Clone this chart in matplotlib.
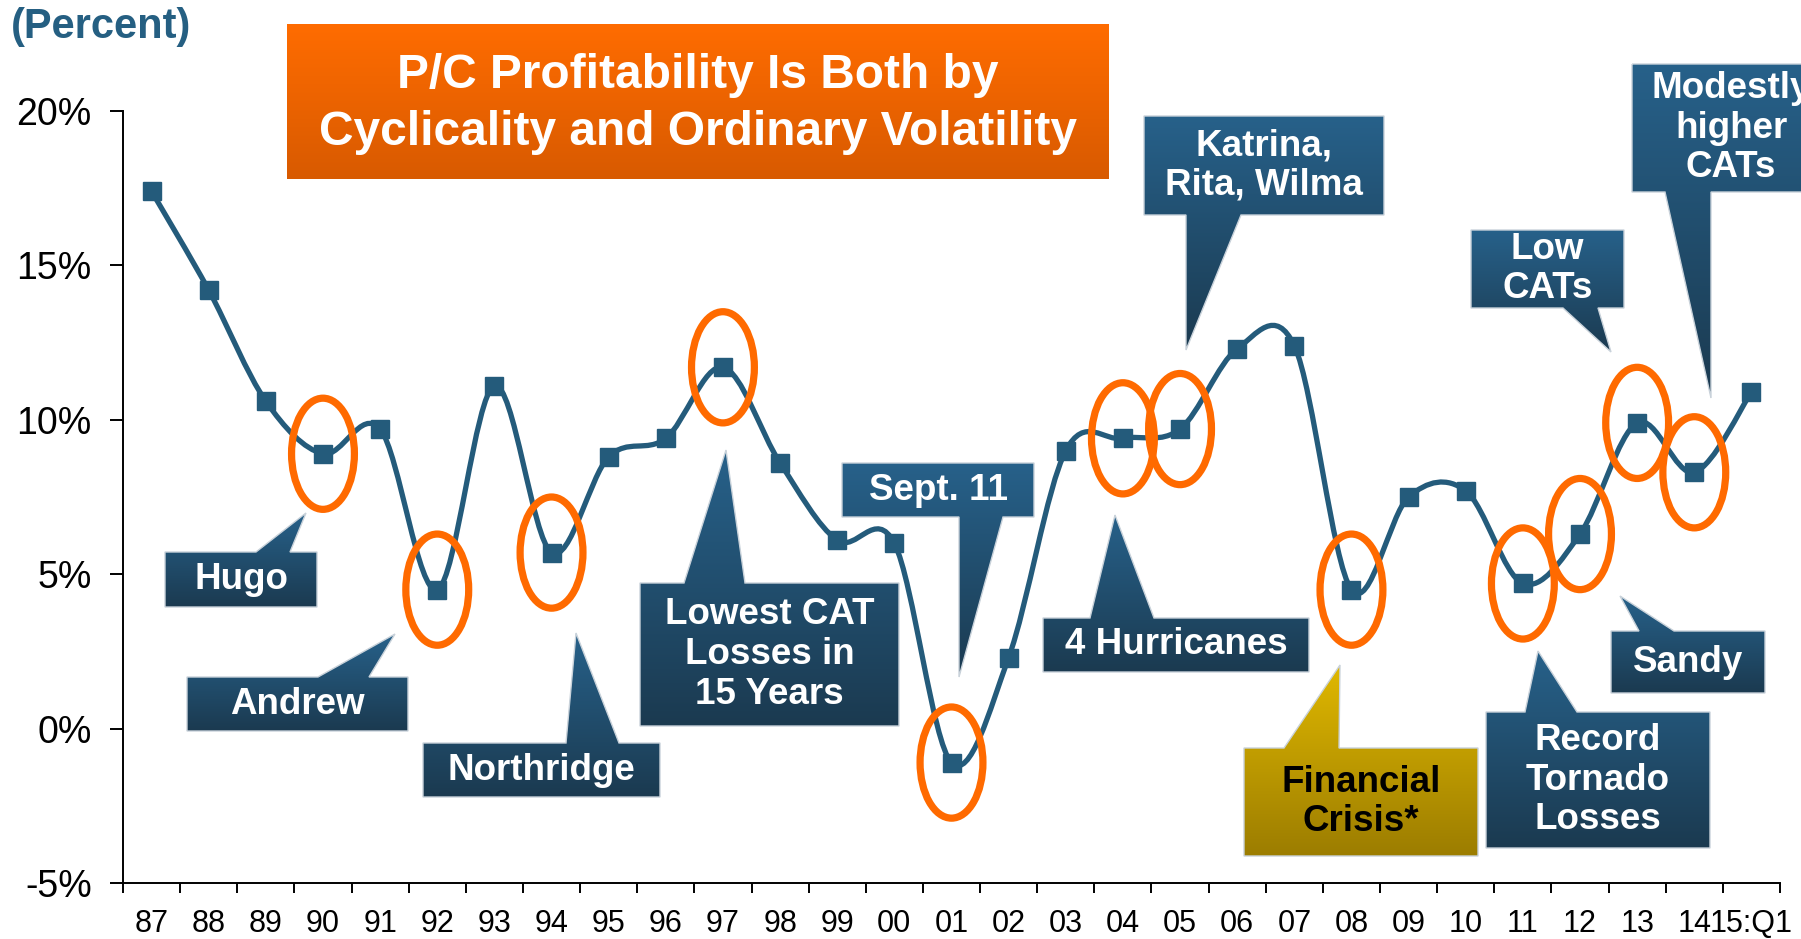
import numpy as np
import matplotlib
matplotlib.use("Agg")
import matplotlib.pyplot as plt
from matplotlib.path import Path
from matplotlib.patches import PathPatch, Ellipse, Polygon
from matplotlib.colors import LinearSegmentedColormap

plt.rcParams["font.family"] = ["Liberation Sans", "DejaVu Sans"]

W, H = 1801, 939

# P/C insurer ROE by year (percent)
years = ["87", "88", "89", "90", "91", "92", "93", "94", "95", "96", "97", "98",
         "99", "00", "01", "02", "03", "04", "05", "06", "07", "08", "09", "10",
         "11", "12", "13", "14", "15:Q1"]
roe = [17.4, 14.2, 10.6, 8.9, 9.7, 4.5, 11.1, 5.7, 8.8, 9.4, 11.7, 8.6,
       6.1, 6.0, -1.1, 2.3, 9.0, 9.4, 9.7, 12.3, 12.4, 4.5, 7.5, 7.7,
       4.7, 6.3, 9.9, 8.3, 10.9]
circled = ["90", "92", "94", "97", "01", "04", "05", "08", "11", "12", "13", "14"]
yticks = [-5, 0, 5, 10, 15, 20]

LINE = "#245B7B"
ORANGE = "#FF6A00"
TEAL = ("#27618A", "#1B3A50")
GOLD = ("#E0B800", "#9C7D00")

fig = plt.figure(figsize=(W / 100, H / 100), dpi=100)
ax = fig.add_axes([123 / W, (H - 883) / H, (1780 - 123) / W, (883 - 111) / H])

# smoothed line (Excel style bezier through the points)
x = np.arange(len(years), dtype=float)
y = np.array(roe)
pts = np.column_stack([x, y])
n = len(pts)
verts, codes = [pts[0]], [Path.MOVETO]
for i in range(n - 1):
    p0, p1 = pts[max(i - 1, 0)], pts[i]
    p2, p3 = pts[i + 1], pts[min(i + 2, n - 1)]
    verts += [p1 + (p2 - p0) / 6, p2 - (p3 - p1) / 6, p2]
    codes += [Path.CURVE4] * 3
ax.add_patch(PathPatch(Path(verts, codes), fc="none", ec=LINE, lw=3.8,
                       joinstyle="round", capstyle="round", zorder=2))
ax.plot(x, y, ls="none", marker="s", ms=13.5, color=LINE, zorder=3)

for lab in circled:
    i = years.index(lab)
    ax.add_patch(Ellipse((x[i], y[i]), width=1.1, height=3.6, fill=False,
                         ec=ORANGE, lw=5.2, zorder=4))

ax.set_xlim(-0.5, len(years) - 0.5)
ax.set_ylim(-5, 20)
ax.set_yticks(yticks)
ax.set_yticklabels([f"{v}%" for v in yticks])
ax.set_xticks(x)
ax.set_xticklabels(years)
ax.set_xticks(np.arange(len(years) + 1) - 0.5, minor=True)
ax.tick_params(axis="x", which="major", length=0, pad=19, labelsize=22)
ax.tick_params(axis="x", which="minor", length=7.5, width=1.4, direction="out")
ax.tick_params(axis="y", length=9.5, width=1.4, direction="out", pad=13, labelsize=27)
for s in ["top", "right"]:
    ax.spines[s].set_visible(False)
for s in ["left", "bottom"]:
    ax.spines[s].set_linewidth(1.4)

# overlay in pixel coordinates for title and callouts
ov = fig.add_axes([0, 0, 1, 1], zorder=5)
ov.set_xlim(0, W)
ov.set_ylim(H, 0)
ov.axis("off")


def grad_shape(verts, colors, edge=None):
    poly = Polygon(verts, closed=True, fc="none",
                   ec=edge if edge else "none", lw=1.0, zorder=6)
    ov.add_patch(poly)
    xs = [v[0] for v in verts]
    ys = [v[1] for v in verts]
    cmap = LinearSegmentedColormap.from_list("g", list(colors))
    im = ov.imshow(np.linspace(0, 1, 256).reshape(-1, 1), cmap=cmap, aspect="auto",
                   extent=(min(xs), max(xs), max(ys), min(ys)), zorder=5,
                   interpolation="bilinear")
    im.set_clip_path(poly)


def callout(text, box, side, base, tip, colors=TEAL, tcolor="white", size=26.5):
    x0, x1, y0, y1 = box
    b0, b1 = base
    if side == "top":
        v = [(x0, y0), (b0, y0), tip, (b1, y0), (x1, y0), (x1, y1), (x0, y1)]
    else:
        v = [(x0, y0), (x1, y0), (x1, y1), (b1, y1), tip, (b0, y1), (x0, y1)]
    grad_shape(v, colors, edge="#c9d2da")
    ov.text((x0 + x1) / 2, (y0 + y1) / 2, text, ha="center", va="center",
            color=tcolor, fontsize=size, fontweight="bold", linespacing=1.17, zorder=7)


# title box
grad_shape([(287, 24), (1109, 24), (1109, 179), (287, 179)], ("#FF6C00", "#D85A00"))
ov.text(698, 88, "P/C Profitability Is Both by", ha="center", va="baseline",
        color="white", fontsize=34.5, fontweight="bold", zorder=7)
ov.text(698, 145, "Cyclicality and Ordinary Volatility", ha="center", va="baseline",
        color="white", fontsize=34.5, fontweight="bold", zorder=7)

ov.text(11, 38, "(Percent)", ha="left", va="baseline", color="#255F82",
        fontsize=30, fontweight="bold")

callout("Hugo", (165, 317, 552, 607), "top", (256, 290), (306, 513))
callout("Andrew", (187, 408, 677, 731), "top", (318, 369), (395, 634))
callout("Northridge", (423, 660, 743, 797), "top", (566, 619), (576, 633))
callout("Lowest CAT\nLosses in\n15 Years", (640, 899, 583, 726), "top", (684, 745), (726, 450))
callout("Sept. 11", (842, 1034, 463, 517), "bottom", (959, 1003), (959, 677))
callout("4 Hurricanes", (1043, 1309, 618, 672), "top", (1090, 1154), (1115, 515))
callout("Katrina,\nRita, Wilma", (1144, 1384, 116, 215), "bottom", (1186, 1241), (1186, 350))
callout("Financial\nCrisis*", (1244, 1478, 748, 856), "top", (1284, 1339), (1340, 665),
        colors=GOLD, tcolor="black")
callout("Record\nTornado\nLosses", (1486, 1710, 712, 848), "top", (1525, 1577), (1538, 651))
callout("Sandy", (1611, 1765, 631, 693), "top", (1639, 1674), (1620, 596))
callout("Low\nCATs", (1471, 1624, 230, 308), "bottom", (1563, 1598), (1611, 352))
callout("Modestly\nhigher\nCATs", (1632, 1830, 64, 192), "bottom", (1665, 1711), (1711, 398))

ov.set_xlim(0, W)
ov.set_ylim(H, 0)

fig.savefig("out.png", dpi=100)
